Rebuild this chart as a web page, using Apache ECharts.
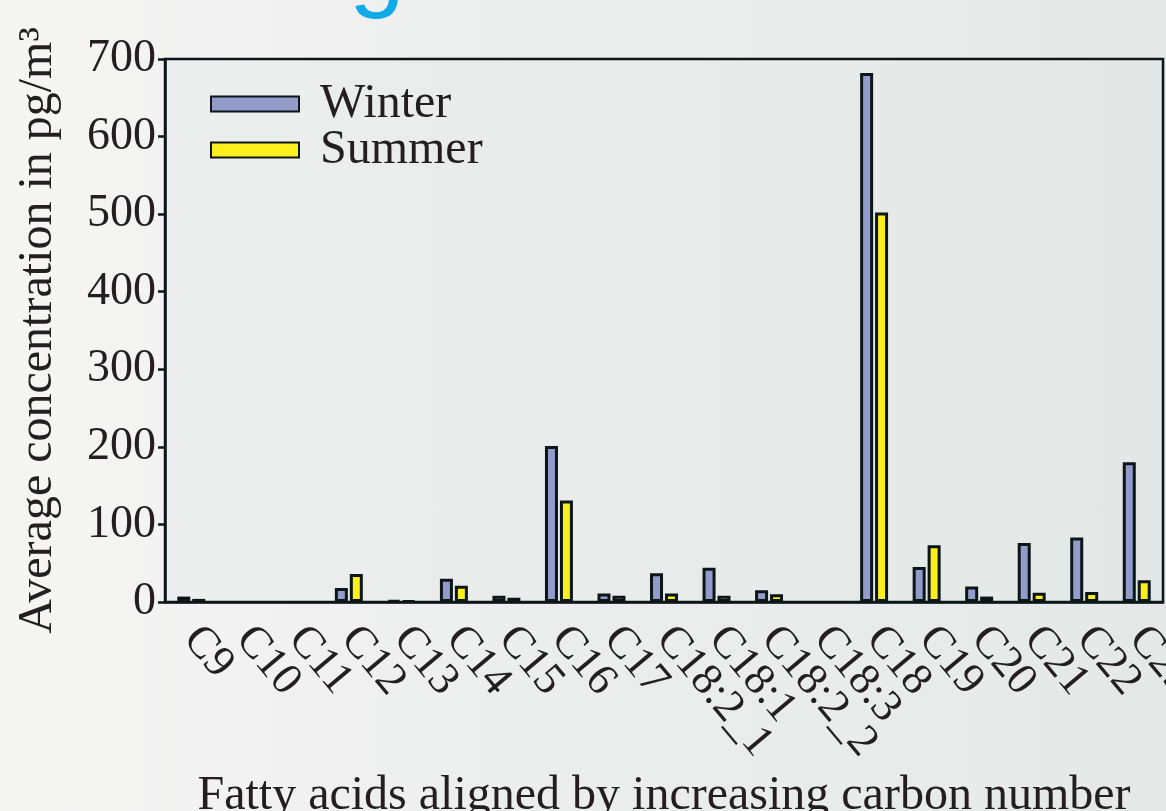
<!DOCTYPE html>
<html>
<head>
<meta charset="utf-8">
<script src="https://cdn.jsdelivr.net/npm/echarts@6/dist/echarts.min.js"></script>
<style>
html,body{margin:0;padding:0;width:1166px;height:811px;overflow:hidden;
background:linear-gradient(90deg,#f5f5f4 0%,#eceeed 45%,#e4e9e8 100%);}
#c{width:1166px;height:811px;}
</style>
</head>
<body>
<div id="c"></div>
<script>
const categories = ['C9','C10','C11','C12','C13','C14','C15','C16','C17','C18:2_1','C18:1','C18:2_2','C18:3','C18','C19','C20','C21','C22','C23'];
const winter = [7,0,0,18,2,30,8,201,11,37,44,15,0,682,45,20,76,83,180];
const summer = [4,0,0,36,1.5,21,5.5,131,8,11,8,10,0,502,73,7,12,13,28];
const yTicks = [0,100,200,300,400,500,600,700];

const FONT = 'Liberation Serif';
const INK = '#231f20';
const LINE = '#0c1619';
const toBars = a => a.map(v => v === 0 ? '-' : v);

const chart = echarts.init(document.getElementById('c'), null, {renderer:'canvas'});
chart.setOption({
  backgroundColor: 'transparent',
  animation: false,
  grid: {left:165, top:59, right:3, bottom:209, outerBoundsMode:'none', containLabel:false,
         show:true, borderColor:LINE, borderWidth:2.5, backgroundColor:'rgba(225,231,229,0.35)'},
  legend: {
    orient:'vertical', left:210, top:80, padding:0, itemWidth:88, itemHeight:15, itemGap:-2,
    icon:'rect',
    textStyle:{fontFamily:FONT, fontSize:48, color:INK, padding:[0,0,0,16]},
    data:['Winter','Summer']
  },
  xAxis: {
    type:'category', data:categories,
    axisLine:{show:true, lineStyle:{color:LINE, width:2.5}},
    axisTick:{show:false},
    axisLabel:{rotate:-50, interval:0, margin:30, fontFamily:FONT, fontSize:45, color:INK},
    name:'Fatty acids aligned by increasing carbon number',
    nameLocation:'middle', nameGap:169,
    nameTextStyle:{fontFamily:FONT, fontSize:48, color:INK}
  },
  yAxis: {
    type:'value', min:yTicks[0], max:yTicks[yTicks.length-1], interval:100,
    splitLine:{show:false},
    axisLine:{show:true, lineStyle:{color:LINE, width:2.5}},
    axisTick:{show:true, inside:false, length:7, lineStyle:{color:LINE, width:2.5}},
    axisLabel:{margin:9, fontFamily:FONT, fontSize:46, color:INK},
    name:'Average concentration in pg/m³',
    nameLocation:'middle', nameGap:103,
    nameTextStyle:{fontFamily:FONT, fontSize:48, color:INK}
  },
  graphic:[{
    type:'text', left:349, top:-80, silent:true,
    style:{text:'g', fontFamily:'Liberation Sans', fontSize:100, fill:'#10aae8'}
  }],
  series: [
    {name:'Winter', type:'bar', data:toBars(winter), barWidth:13, barGap:'15%',
     itemStyle:{color:'#939bcb', borderColor:LINE, borderWidth:3}},
    {name:'Summer', type:'bar', data:toBars(summer), barWidth:13,
     itemStyle:{color:'#fbf01e', borderColor:LINE, borderWidth:3}}
  ]
});
</script>
</body>
</html>
